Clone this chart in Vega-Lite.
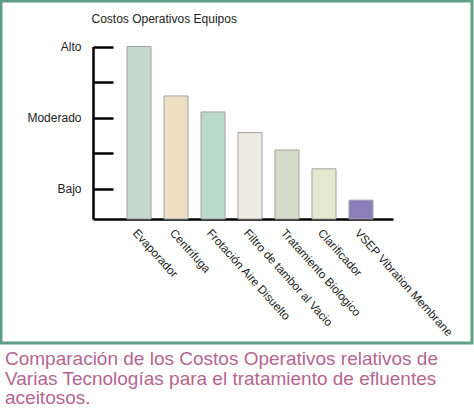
{
  "$schema": "https://vega.github.io/schema/vega-lite/v6.json",
  "autosize": "none",
  "width": 471,
  "height": 342,
  "padding": {"left": 1, "top": 1, "right": 2, "bottom": 67},
  "background": "white",
  "title": {
    "text": [
      "Comparación de los Costos Operativos relativos de",
      "Varias Tecnologías para el tratamiento de efluentes",
      "aceitosos."
    ],
    "orient": "bottom",
    "anchor": "start",
    "baseline": "top",
    "offset": 7,
    "dx": 4,
    "font": "Liberation Sans",
    "fontSize": 19,
    "fontWeight": "normal",
    "lineHeight": 19.5,
    "color": "#b5668f"
  },
  "data": {
    "values": [
      {"equipo": "Evaporador", "costo": 5.0},
      {"equipo": "Centrifuga", "costo": 3.61},
      {"equipo": "Frotación Aire Disuelto", "costo": 3.16},
      {"equipo": "Filtro de tambor al Vacio", "costo": 2.58},
      {"equipo": "Tratamiento Biologico", "costo": 2.09},
      {"equipo": "Clarificador", "costo": 1.56},
      {"equipo": "VSEP Vibration Membrane", "costo": 0.68}
    ]
  },
  "mark": {"type": "bar", "stroke": "#a3a3a3", "strokeWidth": 1},
  "encoding": {
    "x": {
      "field": "equipo",
      "type": "nominal",
      "sort": null,
      "scale": {"range": [92, 392], "paddingInner": 0.35, "paddingOuter": 0.73, "align": 0.63},
      "axis": {
        "title": null,
        "offset": -124,
        "ticks": false,
        "domainColor": "black",
        "domainWidth": 2.5,
        "labelAngle": 48,
        "labelAlign": "left",
        "labelBaseline": "top",
        "labelPadding": 8,
        "labelFont": "Liberation Sans",
        "labelFontSize": 11.7,
        "labelColor": "#222"
      }
    },
    "y": {
      "field": "costo",
      "type": "quantitative",
      "scale": {"domain": [0.15, 5], "range": [218, 45.5], "zero": false, "nice": false, "clamp": true},
      "axis": {
        "offset": -92,
        "values": [1, 2, 3, 4, 5],
        "grid": false,
        "labelExpr": "datum.value == 5 ? 'Alto' : datum.value == 3 ? 'Moderado' : datum.value == 1 ? 'Bajo' : ''",
        "tickSize": -20,
        "tickWidth": 2.5,
        "tickColor": "black",
        "domainColor": "black",
        "domainWidth": 2.5,
        "labelPadding": 32,
        "labelFont": "Liberation Sans",
        "labelFontSize": 12,
        "labelColor": "#222",
        "title": "Costos Operativos Equipos",
        "titleAngle": 0,
        "titleAlign": "left",
        "titleBaseline": "alphabetic",
        "titleX": -2,
        "titleY": 21,
        "titleFont": "Liberation Sans",
        "titleFontSize": 12,
        "titleFontWeight": "normal",
        "titleColor": "#222"
      }
    },
    "color": {
      "field": "equipo",
      "type": "nominal",
      "legend": null,
      "scale": {
        "domain": ["Evaporador", "Centrifuga", "Frotación Aire Disuelto", "Filtro de tambor al Vacio", "Tratamiento Biologico", "Clarificador", "VSEP Vibration Membrane"],
        "range": ["#c6d8cc", "#ecdfc3", "#b9d9c9", "#eeece0", "#d3dccb", "#e3e8cf", "#8b7fbb"]
      }
    }
  },
  "config": {
    "view": {"stroke": "#5f9f86", "strokeWidth": 3}
  }
}
